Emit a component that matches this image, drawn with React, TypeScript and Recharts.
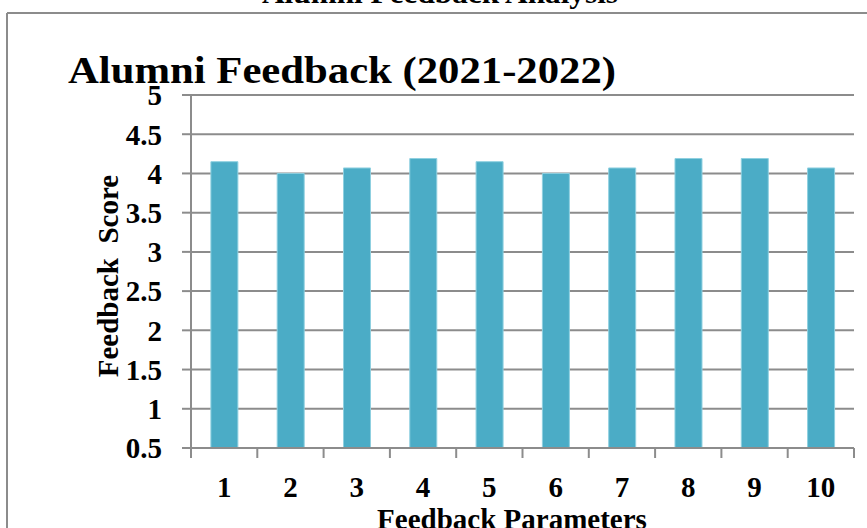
import React from 'react';
import { BarChart, Bar, XAxis, YAxis, CartesianGrid } from 'recharts';

const parameters = ['1', '2', '3', '4', '5', '6', '7', '8', '9', '10'];
const scores = [4.15, 4.0, 4.07, 4.19, 4.15, 4.0, 4.07, 4.19, 4.19, 4.07];
const scoreTicks = [0.5, 1, 1.5, 2, 2.5, 3, 3.5, 4, 4.5, 5];

const data = parameters.map((p, i) => ({ parameter: p, score: scores[i] }));

const FONT = "'Times New Roman', 'Liberation Serif', Tinos, 'Nimbus Roman', Times, serif";
const GRID = '#8c8c8c';
const BAR = '#4bacc6';

// ticks sit on the category edges, labels in the middle
function ParamTick(props: any) {
  const { x, y, payload, index, visibleTicksCount } = props;
  const half = payload?.offset ?? 0;
  const last = index === visibleTicksCount - 1;
  return (
    <g>
      <line x1={x - half} y1={y} x2={x - half} y2={y + 10} stroke={GRID} strokeWidth={2} />
      {last && <line x1={x + half} y1={y} x2={x + half} y2={y + 10} stroke={GRID} strokeWidth={2} />}
      <text x={x} y={y + 49} textAnchor="middle" fill="#000" fontSize={29} fontWeight={700} style={{ fontFamily: FONT }}>
        {payload.value}
      </text>
    </g>
  );
}

export default function App() {
  return (
    <div style={{ position: 'relative', width: 867, height: 528, overflow: 'hidden', background: '#fff', fontFamily: FONT }}>
      <style>{'body{margin:0}'}</style>
      <BarChart width={867} height={528} data={data} margin={{ top: 95, right: 13, bottom: 0, left: 0 }} barCategoryGap="30%">
        <CartesianGrid vertical={false} stroke={GRID} strokeWidth={2} />
        <XAxis
          dataKey="parameter"
          height={80}
          interval={0}
          axisLine={{ stroke: GRID, strokeWidth: 2 }}
          tickLine={false}
          tickSize={0}
          tickMargin={0}
          tick={<ParamTick />}
        />
        <YAxis
          type="number"
          domain={[0.5, 5]}
          ticks={scoreTicks}
          interval={0}
          allowDataOverflow
          width={191}
          axisLine={{ stroke: GRID, strokeWidth: 2 }}
          tickLine={{ stroke: GRID, strokeWidth: 2 }}
          tickSize={9}
          tickMargin={20}
          tick={{ fill: '#000', fontSize: 29, fontWeight: 700, style: { fontFamily: FONT } }}
        />
        <Bar dataKey="score" fill={BAR} stroke="#8fd0e0" strokeWidth={1} isAnimationActive={false} />
      </BarChart>
      <svg width={867} height={528} style={{ position: 'absolute', left: 0, top: 0, pointerEvents: 'none', fontFamily: FONT }}>
        <line x1={7} y1={13} x2={867} y2={13} stroke={GRID} strokeWidth={2} />
        <line x1={7} y1={13} x2={7} y2={528} stroke={GRID} strokeWidth={2} />
        <text x={440} y={3} textAnchor="middle" fontSize={30} fontWeight={700} textLength={356} lengthAdjust="spacingAndGlyphs">
          Alumni Feedback Analysis
        </text>
        <text x={68} y={83} fontSize={38} fontWeight={700} textLength={548} lengthAdjust="spacingAndGlyphs">
          Alumni Feedback (2021-2022)
        </text>
        <text
          x={0}
          y={0}
          transform="translate(118 276) rotate(-90)"
          textAnchor="middle"
          fontSize={29}
          fontWeight={700}
          style={{ whiteSpace: 'pre' }}
        >
          Feedback  Score
        </text>
        <text x={512} y={529} textAnchor="middle" fontSize={29} fontWeight={700}>
          Feedback Parameters
        </text>
      </svg>
    </div>
  );
}
